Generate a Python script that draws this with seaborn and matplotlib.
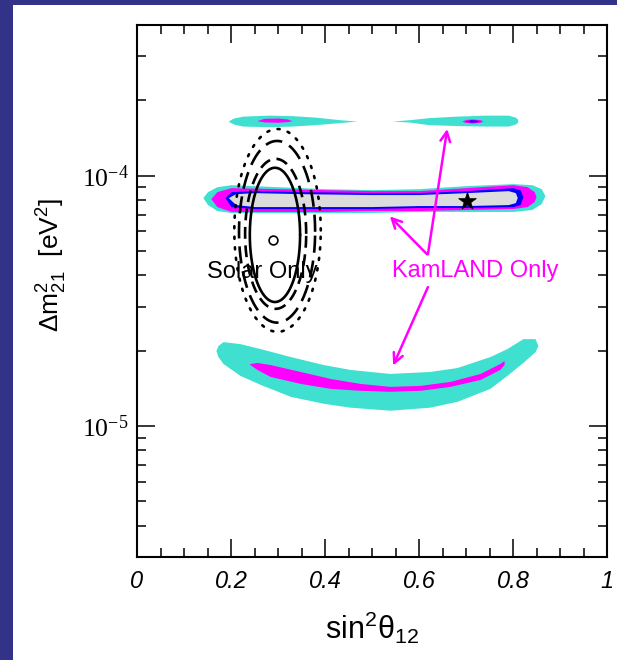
import numpy as np
import matplotlib
matplotlib.use("Agg")
import matplotlib.pyplot as plt
import seaborn as sns
from matplotlib.patches import Rectangle
from matplotlib.ticker import FixedLocator, FuncFormatter, NullFormatter

sns.set_style("ticks")
plt.rcParams["font.family"] = ["Liberation Sans", "DejaVu Sans"]
plt.rcParams["mathtext.fontset"] = "custom"
plt.rcParams["mathtext.rm"] = "Liberation Serif"
plt.rcParams["mathtext.sf"] = "Liberation Sans"
plt.rcParams["mathtext.it"] = "Liberation Sans:italic"
for k in ("text.color", "axes.labelcolor", "xtick.color", "ytick.color", "axes.edgecolor"):
    plt.rcParams[k] = "black"

# ---------------- data (dm2 in units of 1e-5 eV^2) ----------------
# KamLAND central island (turquoise / magenta / blue / grey)
kc_t_x  = [0.140, 0.150, 0.170, 0.20, 0.30, 0.40, 0.50, 0.60, 0.70, 0.80, 0.84, 0.86, 0.868]
kc_t_lo = [8.18, 7.67, 7.26, 7.13, 7.13, 7.13, 7.13, 7.20, 7.20, 7.20, 7.33, 7.74, 8.33]
kc_t_hi = [8.18, 8.64, 9.04, 9.21, 9.04, 8.88, 8.80, 8.88, 9.13, 9.30, 9.21, 8.88, 8.33]

kc_m_x  = [0.157, 0.170, 0.20, 0.30, 0.40, 0.50, 0.60, 0.70, 0.80, 0.83, 0.845, 0.849]
kc_m_lo = [8.10, 7.53, 7.20, 7.20, 7.20, 7.26, 7.26, 7.33, 7.40, 7.53, 7.89, 8.25]
kc_m_hi = [8.10, 8.64, 8.96, 8.88, 8.80, 8.72, 8.72, 8.96, 9.21, 9.04, 8.64, 8.25]

kc_b_x  = [0.187, 0.20, 0.25, 0.35, 0.50, 0.60, 0.70, 0.80, 0.815, 0.821]
kc_b_lo = [8.18, 7.53, 7.40, 7.40, 7.40, 7.47, 7.47, 7.53, 7.67, 8.25]
kc_b_hi = [8.18, 8.64, 8.72, 8.64, 8.56, 8.56, 8.72, 8.96, 8.80, 8.25]

kc_g_x  = [0.194, 0.21, 0.25, 0.35, 0.50, 0.60, 0.70, 0.79, 0.805, 0.809]
kc_g_lo = [8.18, 7.67, 7.53, 7.53, 7.53, 7.60, 7.60, 7.67, 7.81, 8.18]
kc_g_hi = [8.18, 8.48, 8.56, 8.48, 8.41, 8.41, 8.56, 8.72, 8.56, 8.18]

# KamLAND upper islands
ku1_t_x  = [0.194, 0.205, 0.225, 0.28, 0.33, 0.38, 0.43, 0.468]
ku1_t_lo = [16.53, 16.09, 15.79, 15.70, 15.79, 16.00, 16.30, 16.53]
ku1_t_hi = [16.53, 16.99, 17.30, 17.46, 17.38, 17.14, 16.75, 16.53]
ku1_m_x  = [0.255, 0.27, 0.30, 0.32, 0.33]
ku1_m_lo = [16.60, 16.40, 16.35, 16.45, 16.60]
ku1_m_hi = [16.60, 16.95, 17.00, 16.85, 16.60]

ku2_t_x  = [0.543, 0.58, 0.62, 0.68, 0.74, 0.79, 0.805, 0.81]
ku2_t_lo = [16.53, 16.38, 16.00, 15.86, 15.79, 15.79, 16.09, 16.40]
ku2_t_hi = [16.53, 16.75, 17.06, 17.30, 17.46, 17.46, 17.14, 16.80]
ku2_m_x  = [0.691, 0.70, 0.715, 0.73, 0.736]
ku2_m_lo = [16.53, 16.30, 16.25, 16.35, 16.53]
ku2_m_hi = [16.53, 16.80, 16.85, 16.75, 16.53]
ku2_b_x  = [0.698, 0.71, 0.72, 0.728]
ku2_b_lo = [16.53, 16.38, 16.40, 16.53]
ku2_b_hi = [16.53, 16.72, 16.70, 16.53]

# KamLAND lower island
kl_t_x  = [0.168, 0.172, 0.183, 0.219, 0.262, 0.326, 0.396, 0.453, 0.538,
           0.623, 0.681, 0.751, 0.787, 0.821, 0.847, 0.853]
kl_t_lo = [2.003, 1.896, 1.778, 1.594, 1.468, 1.315, 1.234, 1.190, 1.157,
           1.190, 1.256, 1.415, 1.594, 1.795, 1.984, 2.096]
kl_t_hi = [2.003, 2.096, 2.175, 2.135, 2.040, 1.896, 1.762, 1.684, 1.623,
           1.653, 1.714, 1.896, 2.040, 2.235, 2.235, 2.096]

kl_m_x  = [0.240, 0.255, 0.283, 0.347, 0.411, 0.474, 0.538, 0.602, 0.666, 0.730, 0.772, 0.781]
kl_m_lo = [1.762, 1.684, 1.579, 1.481, 1.415, 1.390, 1.377, 1.390, 1.441, 1.536, 1.684, 1.762]
kl_m_hi = [1.778, 1.795, 1.762, 1.653, 1.550, 1.481, 1.441, 1.454, 1.508, 1.623, 1.778, 1.828]

# Solar-only contours: extents (x min, x max, dm2 min, dm2 max)
solar_xmin  = [0.240, 0.230, 0.217, 0.207]
solar_xmax  = [0.347, 0.360, 0.379, 0.391]
solar_dmmin = [3.13, 2.94, 2.59, 2.38]
solar_dmmax = [10.76, 11.68, 13.77, 15.37]
solar_styles = ["solid", (0, (4.5, 2.5)), (0, (6.5, 3.0)), (0, (0.8, 3.2))]

solar_best = (0.289, 5.52)
kam_best = (0.702, 7.89)

# arrows: (tail x, tail y) -> (head x, head y)
arrow_tail = [(0.617, 4.86), (0.619, 4.86), (0.619, 3.59)]
arrow_head = [(0.538, 6.88), (0.660, 15.37), (0.545, 1.746)]

xticks = [0, 0.2, 0.4, 0.6, 0.8, 1]
xticklabels = ["0", "0.2", "0.4", "0.6", "0.8", "1"]

TURQ = "#40E0D0"
MAG = "#FF00FF"
BLUE = "#0000FF"
GREY = "#DCDCDC"
NAVY = "#323289"

U = 1e-5

fig = plt.figure(figsize=(6.17, 6.6), dpi=100, facecolor=NAVY)
fig.patches.append(Rectangle((13 / 617, 0), 1, 1 - 5 / 660, transform=fig.transFigure,
                             facecolor="white", edgecolor="none", zorder=-5))
ax = fig.add_axes([137 / 617, 1 - 557 / 660, (607 - 137) / 617, (557 - 25) / 660])
ax.set_zorder(2)
ax.set_facecolor("white")
ax.set_yscale("log")
ax.set_xlim(0, 1)
ax.set_ylim(3e-6, 4e-4)


def band(x, lo, hi, color, z):
    ax.fill_between(np.asarray(x), np.asarray(lo) * U, np.asarray(hi) * U,
                    color=color, lw=0, zorder=z)


band(kc_t_x, kc_t_lo, kc_t_hi, TURQ, 1)
band(kc_m_x, kc_m_lo, kc_m_hi, MAG, 2)
band(kc_b_x, kc_b_lo, kc_b_hi, BLUE, 3)
band(kc_g_x, kc_g_lo, kc_g_hi, GREY, 4)
band(ku1_t_x, ku1_t_lo, ku1_t_hi, TURQ, 1)
band(ku1_m_x, ku1_m_lo, ku1_m_hi, MAG, 2)
band(ku2_t_x, ku2_t_lo, ku2_t_hi, TURQ, 1)
band(ku2_m_x, ku2_m_lo, ku2_m_hi, MAG, 2)
band(ku2_b_x, ku2_b_lo, ku2_b_hi, BLUE, 3)
band(kl_t_x, kl_t_lo, kl_t_hi, TURQ, 1)
band(kl_m_x, kl_m_lo, kl_m_hi, MAG, 2)

# solar contours (ellipses in x / log dm2 from read extents)
t = np.linspace(0, 2 * np.pi, 400)
for x0, x1, y0, y1, ls in zip(solar_xmin, solar_xmax, solar_dmmin, solar_dmmax, solar_styles):
    cx, rx = (x0 + x1) / 2, (x1 - x0) / 2
    ly0, ly1 = np.log10(y0 * U), np.log10(y1 * U)
    cy, ry = (ly0 + ly1) / 2, (ly1 - ly0) / 2
    ax.plot(cx + rx * np.cos(t), 10 ** (cy + ry * np.sin(t)), color="black",
            lw=1.9, linestyle=ls, zorder=6, solid_capstyle="round",
            dash_capstyle="round" if ls == solar_styles[3] else "butt")

sns.scatterplot(x=[solar_best[0]], y=[solar_best[1] * U], ax=ax, marker="o", s=40,
                facecolor="white", edgecolor="black", linewidth=1.2, zorder=8)
sns.scatterplot(x=[kam_best[0]], y=[kam_best[1] * U], ax=ax, marker="*", s=180,
                color="black", edgecolor="black", linewidth=0.5, zorder=8)

for (tx, ty), (hx, hy) in zip(arrow_tail, arrow_head):
    ax.annotate("", xy=(hx, hy * U), xytext=(tx, ty * U),
                arrowprops=dict(arrowstyle="->,head_length=0.7,head_width=0.35",
                                color=MAG, lw=1.8, shrinkA=0, shrinkB=0), zorder=7)

ax.text(0.266, 4.12 * U, "Solar Only", ha="center", va="center", fontsize=17,
        color="black", zorder=9)
ax.text(0.719, 4.16 * U, "KamLAND Only", ha="center", va="center", fontsize=17,
        color=MAG, zorder=9)

# ticks
ax.xaxis.set_major_locator(FixedLocator(xticks))
ax.xaxis.set_minor_locator(FixedLocator(np.arange(0.05, 1.0, 0.05)))
ax.set_xticklabels(xticklabels)
ax.yaxis.set_major_locator(FixedLocator([1e-5, 1e-4]))
minors = [m * 10.0 ** e for e in (-6, -5, -4) for m in range(2, 10)]
ax.yaxis.set_minor_locator(FixedLocator(minors))
ax.yaxis.set_major_formatter(FuncFormatter(
    lambda v, p: r"$\mathrm{10^{%d}}$" % int(round(np.log10(v)))))
ax.yaxis.set_minor_formatter(NullFormatter())
ax.tick_params(which="both", direction="in", top=True, right=True, bottom=True,
               left=True, color="black", width=1.1)
ax.tick_params(which="major", length=13)
ax.tick_params(which="minor", length=6.5)
ax.tick_params(axis="x", which="major", labelsize=17, pad=9)
ax.tick_params(axis="y", which="major", labelsize=18.5, pad=6)
for lbl in ax.get_xticklabels():
    lbl.set_fontstyle("italic")
for sp in ax.spines.values():
    sp.set_color("black")
    sp.set_linewidth(1.5)

fig.text(372 / 617, 1 - 628 / 660, r"$\mathsf{sin^2\theta_{12}}$", ha="center",
         va="center", fontsize=22, color="black")
fig.text(52 / 617, 1 - 265 / 660, r"$\mathsf{\Delta m^2_{21}\ \ [eV^2]}$",
         rotation=90, ha="center", va="center", fontsize=19, color="black")

fig.savefig("out.png", dpi=100, facecolor=fig.get_facecolor())
